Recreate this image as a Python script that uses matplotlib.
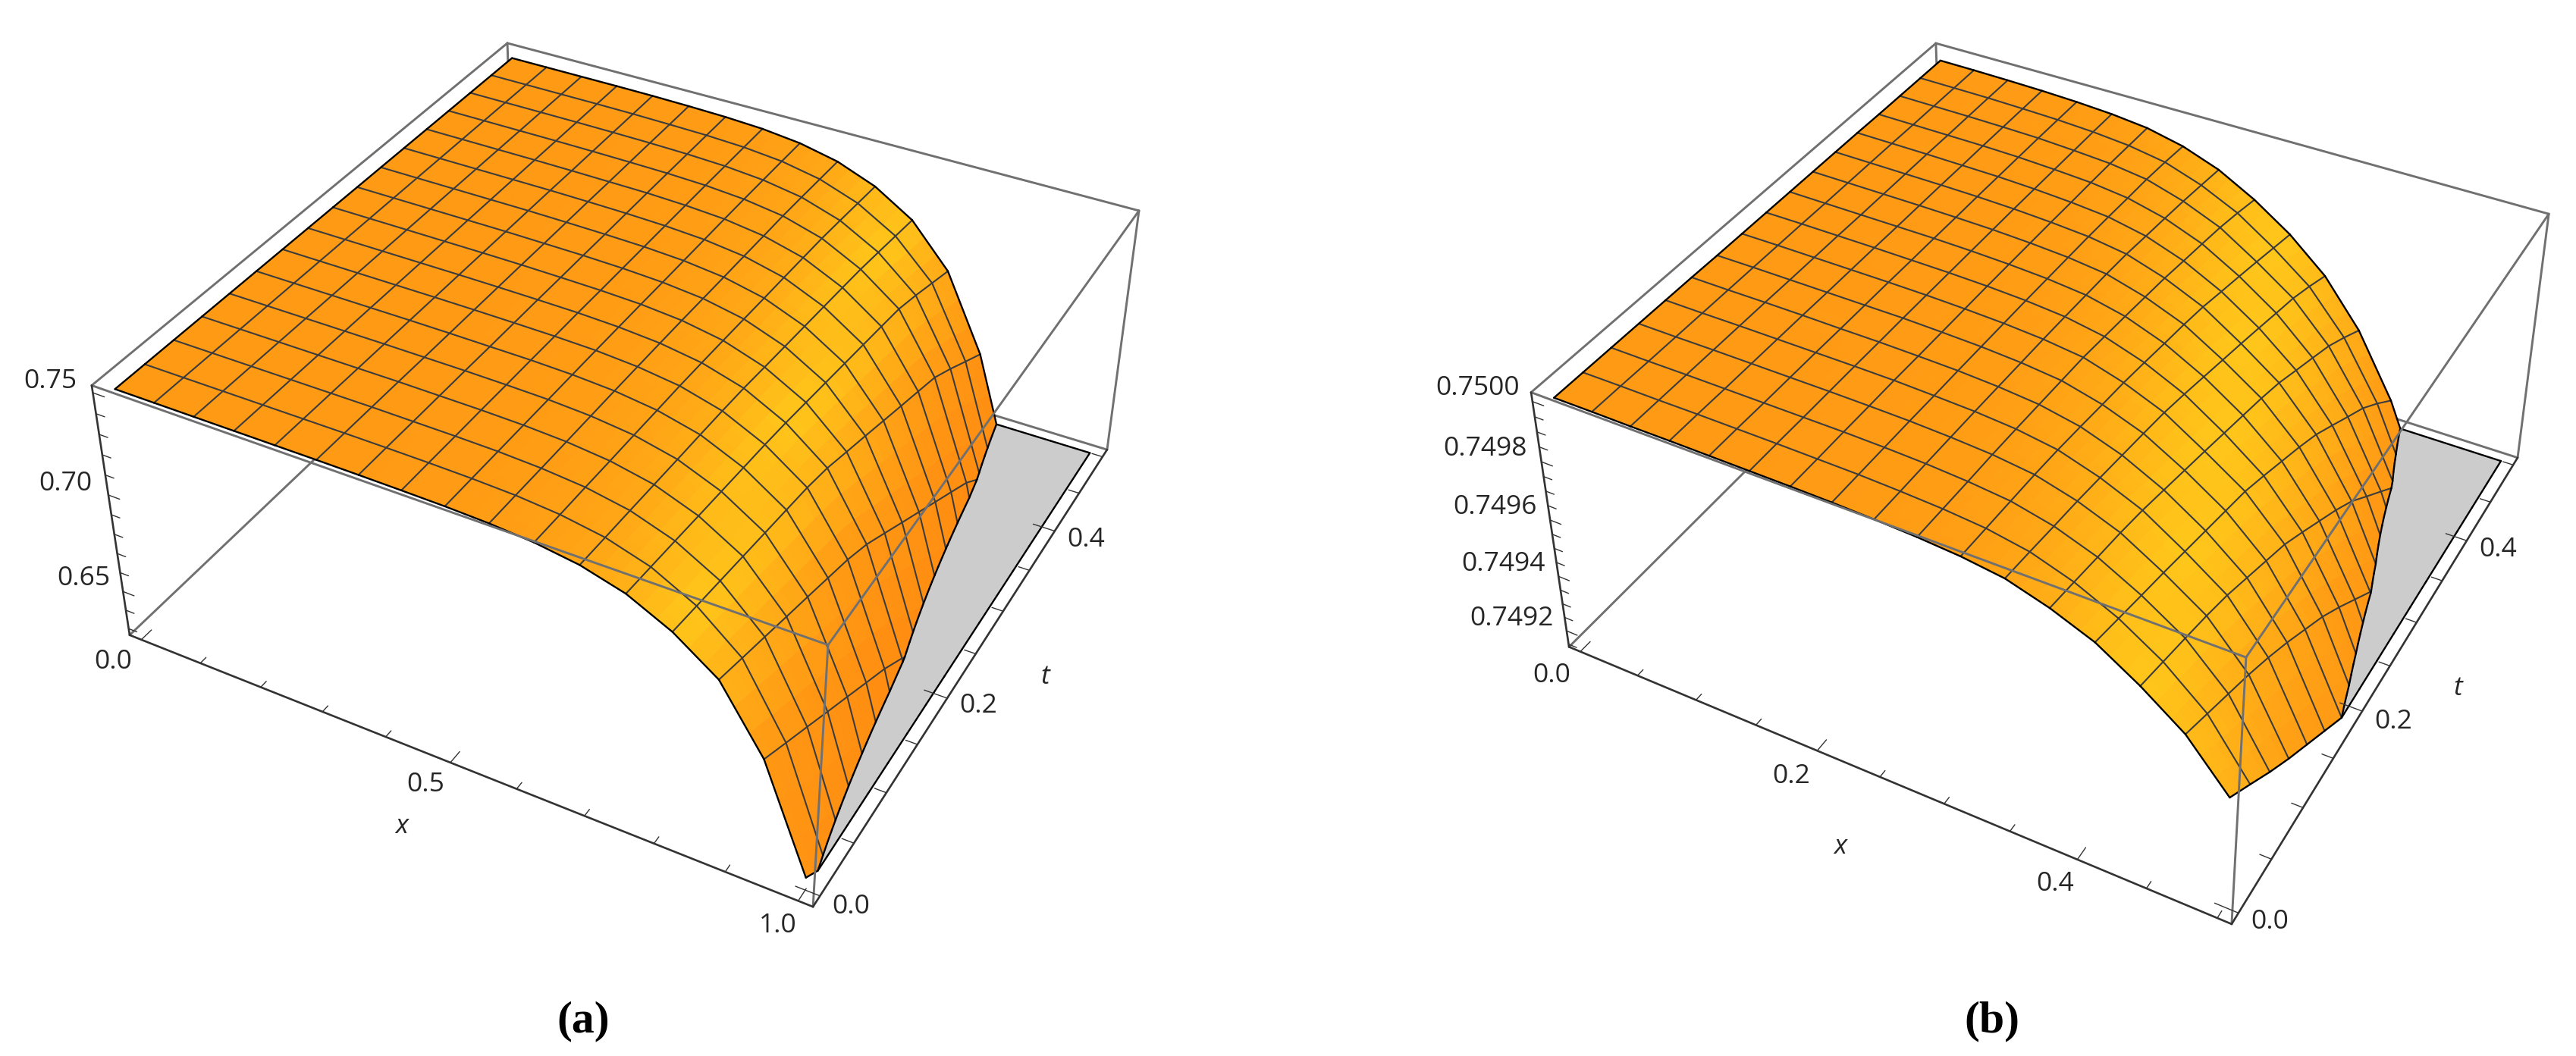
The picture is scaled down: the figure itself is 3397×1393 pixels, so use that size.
import numpy as np
import matplotlib
matplotlib.use("Agg")
import matplotlib.pyplot as plt
from matplotlib.colors import to_rgb
from mpl_toolkits.mplot3d.art3d import Poly3DCollection, Line3DCollection

W, H, DPI = 3397, 1393, 100

# ---------- values ----------
# drop below 0.75 along t (17 rows, t = 0 ... 0.5), one list per x column
TOP_A = 0.75
DROP_UNIT_A = 1e-4
drop_a = [
    [0]*17, [0]*17, [0]*17, [0]*17,
    [0,0,0,0,0,0,0,0,0,0,0,0,1,1,1,1,1],
    [0,0,0,0,1,1,1,1,1,2,2,2,3,3,3,4,4],
    [1,1,2,2,2,3,3,3,4,4,5,5,5,6,7,8,9],
    [3,3,4,4,5,5,6,6,8,9,10,11,12,13,15,17,19],
    [6,7,8,9,10,11,12,14,16,19,21,23,25,28,32,36,41],
    [13,15,18,20,22,24,27,30,34,39,44,48,53,57,65,74,83],
    [28,33,37,42,46,51,55,62,70,79,88,96,105,114,128,143,158],
    [58,67,75,84,93,101,110,121,137,152,167,182,197,213,234,256,278],
    [115,130,145,161,176,191,206,224,246,268,290,312,334,357,398,444,490],
    [215,237,259,281,303,325,347,379,425,470,516,562,607,653,725,803,880],
    [360,406,451,497,542,588,634,693,770,848,925,1003,1080,1158,1263,1374,1485],
    [660,738,815,893,970,1048,1125,1217,1328,1439,1550,1661,1772,1882,1990,2096,2202],
    [1170,1281,1392,1503,1614,1725,1836,1945,2051,2158,2264,2370,2477,2583,2690,2796,2902],
]
TOP_B = 0.75
DROP_UNIT_B = 1e-6
drop_b = [
    [0,0,0,0,0,0,1,1,1,1,1,1,1,2,2,2,2],
    [0,0,1,1,1,1,1,1,1,2,2,2,2,3,3,3,3],
    [1,1,1,1,1,1,2,2,2,3,3,3,3,4,4,4,5],
    [1,1,2,2,2,2,3,3,3,4,4,4,5,5,6,7,8],
    [2,2,3,3,3,4,4,4,5,5,6,6,7,8,9,11,13],
    [3,3,4,4,4,5,5,6,7,8,9,10,12,14,16,18,21],
    [4,5,5,6,6,8,9,10,11,13,15,17,20,22,25,30,35],
    [6,7,8,9,11,12,14,16,18,21,24,27,32,38,43,52,64],
    [10,12,13,15,17,20,23,26,30,35,40,47,59,70,82,96,111],
    [16,19,22,24,28,33,38,43,54,65,77,89,105,120,136,157,181],
    [26,31,36,41,49,60,72,83,98,114,129,147,171,194,218,243,268],
    [44,55,67,78,92,107,122,138,160,184,208,232,257,283,308,342,380],
    [85,100,116,131,150,174,198,222,247,272,297,326,364,401,439,488,541],
    [140,164,188,211,236,261,286,311,347,385,423,465,518,572,625,692,765],
    [225,250,275,301,331,369,407,445,496,549,602,661,734,806,879,970,1068],
    [325,365,405,445,490,540,595,650,715,785,855,935,1030,1128,1225,1342,1466],
    [476,545,615,680,740,800,860,930,1010,1095,1190,1292,1412,1538,1664,1820,1988],
]
x_nodes_a = [0,.0625,.125,.1875,.25,.3125,.375,.4375,.5,.5625,.625,.6875,.75,.8125,.875,.9375,1.0]
x_nodes_b = [0,.03125,.0625,.09375,.125,.15625,.1875,.21875,.25,.28125,.3125,.34375,.375,.40625,.4375,.46875,.5]
t_nodes = [0,.03125,.0625,.09375,.125,.15625,.1875,.21875,.25,.28125,.3125,.34375,.375,.40625,.4375,.46875,.5]

box_a = dict(x=(-0.02, 1.02), t=(-0.01, 0.51), z=(0.6265, 0.7535))
box_b = dict(x=(-0.01, 0.51), t=(-0.01, 0.51), z=(0.74914, 0.75003))

x_major_a = [0.0, 0.5, 1.0]
x_minor_a = [.1,.2,.3,.4,.6,.7,.8,.9]
x_major_b = [0.0, 0.2, 0.4]
x_minor_b = [.05,.1,.15,.25,.3,.35,.45,.5]
t_major = [0.0, 0.2, 0.4]
t_minor = [.05,.1,.15,.25,.3,.35,.45,.5]
z_major_a = [0.65, 0.70, 0.75]
z_minor_a = [.63,.64,.66,.67,.68,.69,.71,.72,.73,.74]
z_major_b = [0.7492, 0.7494, 0.7496, 0.7498, 0.75]
z_minor_b = [.74915,.74925,.7493,.74935,.74945,.7495,.74955,.74965,.7497,.74975,.74985,.7499,.74995]

# pixel position of the box corners in the image: (ix, it, iz) -> (px, py)
corners_a = {(0,0,1):(121,508),(0,0,0):(171,838),(0,1,1):(669,57),(1,1,1):(1502,278),
             (1,1,0):(1460,593),(1,0,1):(1092,851),(1,0,0):(1072,1196)}
corners_b = {(0,0,1):(2019,518),(0,0,0):(2069,853),(0,1,1):(2553,57),(1,1,1):(3361,282),
             (1,1,0):(3320,604),(1,0,1):(2962,867),(1,0,0):(2943,1219)}

slope_stops = [0.0, 0.3, 0.7, 1.2, 2.0, 3.5, 5.0]
slope_colors = ["#FF9A14", "#FFA816", "#FFC81A", "#FFB418", "#FF9A14", "#FF8A10", "#F58410"]
GREY = "#CCCCCC"
MESH = "#3C3C3C"
BOX = "#707070"
AXIS = "#333333"
TEXT = "#262626"
FONT = ["Open Sans", "DejaVu Sans"]
FS = 25.5

# ---------- projection ----------
def fit_camera(corners, box):
    rows = []
    for (i, j, k), (px, py) in corners.items():
        X = np.array([i, j, k, 1.0])
        u, v = px / 1000.0, (H - py) / 1000.0
        rows.append(np.r_[X, 0*X, -u*X])
        rows.append(np.r_[0*X, X, -v*X])
    P = np.linalg.svd(np.array(rows))[2][-1].reshape(3, 4)
    P = np.diag([1000.0, 1000.0, 1.0]) @ P
    N = np.array([[1/(box['x'][1]-box['x'][0]),0,0,-box['x'][0]/(box['x'][1]-box['x'][0])],
                  [0,1/(box['t'][1]-box['t'][0]),0,-box['t'][0]/(box['t'][1]-box['t'][0])],
                  [0,0,1/(box['z'][1]-box['z'][0]),-box['z'][0]/(box['z'][1]-box['z'][0])],
                  [0,0,0,1.0]])
    P = P @ N
    mid = np.array([np.mean(box['x']), np.mean(box['t']), np.mean(box['z']), 1.0])
    w = P[2] @ mid
    return P / w

def install_camera(ax, P):
    def get_proj():
        Tinv = np.linalg.inv(ax.transData.get_affine().get_matrix())
        Q = Tinv @ P
        return np.array([Q[0], Q[1], [0, 0, 0, -1.0], Q[2]])
    ax.get_proj = get_proj

# ---------- surface geometry ----------
def clip_poly(pts, zb, above=True):
    out = []
    n = len(pts)
    for a in range(n):
        p, q = pts[a], pts[(a+1) % n]
        pin = (p[2] >= zb) == above
        qin = (q[2] >= zb) == above
        if pin:
            out.append(p)
        if pin != qin:
            f = (zb - p[2]) / (q[2] - p[2])
            out.append(p + f*(q-p))
    return out

def clip_seg(p, q, zb):
    if p[2] >= zb and q[2] >= zb:
        return (p, q)
    if p[2] < zb and q[2] < zb:
        return None
    f = (zb - p[2]) / (q[2] - p[2])
    c = p + f*(q-p)
    return (p, c) if p[2] >= zb else (c, q)

def vertex_colors(xs, ts, Z, box):
    sx = (box['x'][1]-box['x'][0]); st = (box['t'][1]-box['t'][0]); sz = (box['z'][1]-box['z'][0])
    dzx = np.gradient(Z/sz*0.4, xs/sx, axis=0)
    dzt = np.gradient(Z/sz*0.4, ts/st, axis=1)
    s = np.hypot(dzx, dzt)
    rgb = np.array([to_rgb(c) for c in slope_colors])
    return np.stack([np.interp(s, slope_stops, rgb[:, i]) for i in range(3)], axis=-1)

def draw_panel(ax, xs, ts, Z, box, x_ticks, t_ticks, z_ticks):
    xs, ts = np.asarray(xs), np.asarray(ts)
    zb = box['z'][0]
    C = vertex_colors(xs, ts, Z, box)
    n = 3
    polys, fcs, caps, contour = [], [], [], []
    for j in range(len(xs)-1):
        for k in range(len(ts)-1):
            for a in range(n):
                for b in range(n):
                    uv = [(a/n, b/n), ((a+1)/n, b/n), ((a+1)/n, (b+1)/n), (a/n, (b+1)/n)]
                    pts, cols = [], []
                    for u, v in uv:
                        w = np.array([(1-u)*(1-v), u*(1-v), u*v, (1-u)*v])
                        zz = w @ [Z[j,k], Z[j+1,k], Z[j+1,k+1], Z[j,k+1]]
                        cc = w @ np.array([C[j,k], C[j+1,k], C[j+1,k+1], C[j,k+1]])
                        pts.append(np.array([xs[j]+u*(xs[j+1]-xs[j]), ts[k]+v*(ts[k+1]-ts[k]), zz]))
                        cols.append(cc)
                    top = clip_poly(pts, zb, True)
                    low = clip_poly(pts, zb, False)
                    if len(top) >= 3:
                        polys.append(np.array(top)); fcs.append(np.mean(cols, axis=0))
                    if len(low) >= 3:
                        low = np.array(low); low[:, 2] = zb
                        caps.append(low)
                    if len(top) >= 3 and len(low) >= 3:
                        cp = [p for p in top if abs(p[2]-zb) < 1e-12]
                        if len(cp) >= 2:
                            contour.append((cp[0], cp[-1]))
    fcs = np.array(fcs)
    # mesh lines and outline
    mesh, outline = [], []
    nx, nt = len(xs), len(ts)
    def P3(j, k):
        return np.array([xs[j], ts[k], Z[j, k]])
    for j in range(nx):
        for k in range(nt-1):
            seg = clip_seg(P3(j, k), P3(j, k+1), zb)
            border = j in (0, nx-1)
            if seg is not None:
                (outline if border else mesh).append(seg)
            if border and (Z[j, k] < zb or Z[j, k+1] < zb):
                a, b = P3(j, k), P3(j, k+1)
                f = 0 if a[2] <= zb else (a[2]-zb)/(a[2]-b[2])
                g = 1 if b[2] <= zb else (a[2]-zb)/(a[2]-b[2])
                outline.append((np.r_[a[:2]+f*(b-a)[:2], zb], np.r_[a[:2]+g*(b-a)[:2], zb]))
    for k in range(nt):
        for j in range(nx-1):
            seg = clip_seg(P3(j, k), P3(j+1, k), zb)
            border = k in (0, nt-1)
            if seg is not None:
                (outline if border else mesh).append(seg)
            if border and (Z[j, k] < zb or Z[j+1, k] < zb):
                a, b = P3(j, k), P3(j+1, k)
                f = 0 if a[2] <= zb else (a[2]-zb)/(a[2]-b[2])
                g = 1 if b[2] <= zb else (a[2]-zb)/(a[2]-b[2])
                outline.append((np.r_[a[:2]+f*(b-a)[:2], zb], np.r_[a[:2]+g*(b-a)[:2], zb]))
    outline += contour

    X0, X1 = box['x']; T0, T1 = box['t']; Z0, Z1 = box['z']
    def lines(segs, color, lw, z):
        c = Line3DCollection(np.array(segs, dtype=float), colors=color, linewidths=lw, zorder=z, capstyle='round')
        ax.add_collection3d(c, autolim=False)
        c.set_clip_on(False)
    # box edges hidden by the surface
    lines([[(X0,T1,Z0),(X1,T1,Z0)], [(X0,T0,Z0),(X0,T1,Z0)], [(X0,T1,Z0),(X0,T1,Z1)]], BOX, 2.1, 1)
    g = Poly3DCollection(caps, facecolors=GREY, edgecolors=GREY, linewidths=0.6, zorder=2)
    ax.add_collection3d(g, autolim=False); g.set_clip_on(False)
    s = Poly3DCollection(polys, facecolors=fcs, edgecolors=fcs, linewidths=0.6, zorder=3)
    ax.add_collection3d(s, autolim=False); s.set_clip_on(False)
    lines(mesh, MESH, 1.5, 4)
    lines(outline, "#000000", 1.7, 5)
    # box edges on top
    lines([[(X0,T0,Z1),(X1,T0,Z1)], [(X1,T0,Z1),(X1,T1,Z1)], [(X0,T1,Z1),(X1,T1,Z1)],
           [(X0,T0,Z1),(X0,T1,Z1)], [(X1,T0,Z0),(X1,T0,Z1)], [(X1,T1,Z0),(X1,T1,Z1)]], BOX, 2.1, 6)
    lines([[(X0,T0,Z0),(X1,T0,Z0)], [(X1,T0,Z0),(X1,T1,Z0)], [(X0,T0,Z0),(X0,T0,Z1)]], AXIS, 1.9, 7)
    # ticks
    dx, dt = X1-X0, T1-T0
    tk = []
    for ticks, f in ((x_ticks[0], .022), (x_ticks[1], .0125)):
        tk += [[(v, T0, Z0), (v, T0+f*dt, Z0)] for v in ticks]
    for ticks, f in ((t_ticks[0], .032), (t_ticks[1], .016)):
        tk += [[(X1, v, Z0), (X1-f*dx, v, Z0)] for v in ticks]
    for ticks, f in ((z_ticks[0], .018), (z_ticks[1], .0135)):
        tk += [[(X0, T0, v), (X0+f*dx, T0, v)] for v in ticks]
    lines(tk, AXIS, 1.0, 7)

fig = plt.figure(figsize=(W/DPI, H/DPI), dpi=DPI, facecolor="white")

def make_axes(left_px):
    ax = fig.add_axes([left_px/W, 0, H/W, 1], projection="3d", facecolor="none")
    ax.set_axis_off()
    ax.computed_zorder = False
    return ax

def label(px, py, s, **kw):
    opts = dict(ha="center", va="center", family=FONT, fontsize=FS, color=TEXT)
    opts.update(kw)
    fig.text(px/W, 1-py/H, s, **opts)

Z_a = TOP_A - np.array(drop_a, dtype=float)*DROP_UNIT_A
Z_b = TOP_B - np.array(drop_b, dtype=float)*DROP_UNIT_B

ax_a = make_axes(115)
ax_a.set_xlim(*box_a['x']); ax_a.set_ylim(*box_a['t']); ax_a.set_zlim(*box_a['z'])
install_camera(ax_a, fit_camera(corners_a, box_a))
draw_panel(ax_a, x_nodes_a, t_nodes, Z_a, box_a, (x_major_a, x_minor_a), (t_major, t_minor), (z_major_a, z_minor_a))

ax_b = make_axes(1995)
ax_b.set_xlim(*box_b['x']); ax_b.set_ylim(*box_b['t']); ax_b.set_zlim(*box_b['z'])
install_camera(ax_b, fit_camera(corners_b, box_b))
draw_panel(ax_b, x_nodes_b, t_nodes, Z_b, box_b, (x_major_b, x_minor_b), (t_major, t_minor), (z_major_b, z_minor_b))

# panel (a) texts
for px, py, s in [(66,503,"0.75"),(86,638,"0.70"),(110,763,"0.65"),(149,873,"0.0"),(561,1035,"0.5"),
                  (1026,1221,"1.0"),(1122,1196,"0.0"),(1290,931,"0.2"),(1432,712,"0.4")]:
    label(px, py, s)
label(530, 1090, "x", style="italic")
label(1378, 893, "t", style="italic")
label(769, 1347, "(a)", family=["Liberation Serif", "DejaVu Serif"], fontweight="bold", fontsize=43, color="black")

# panel (b) texts
for px, py, s in [(1949,512,"0.7500"),(1959,592,"0.7498"),(1972,669,"0.7496"),(1982,744,"0.7494"),(1993,816,"0.7492"),
                  (2046,891,"0.0"),(2362,1024,"0.2"),(2710,1166,"0.4"),(2993,1216,"0.0"),(3156,952,"0.2"),(3294,725,"0.4")]:
    label(px, py, s)
label(2427, 1117, "x", style="italic")
label(3241, 908, "t", style="italic")
label(2627, 1347, "(b)", family=["Liberation Serif", "DejaVu Serif"], fontweight="bold", fontsize=43, color="black")

fig.savefig("out.png", dpi=DPI, facecolor="white")
